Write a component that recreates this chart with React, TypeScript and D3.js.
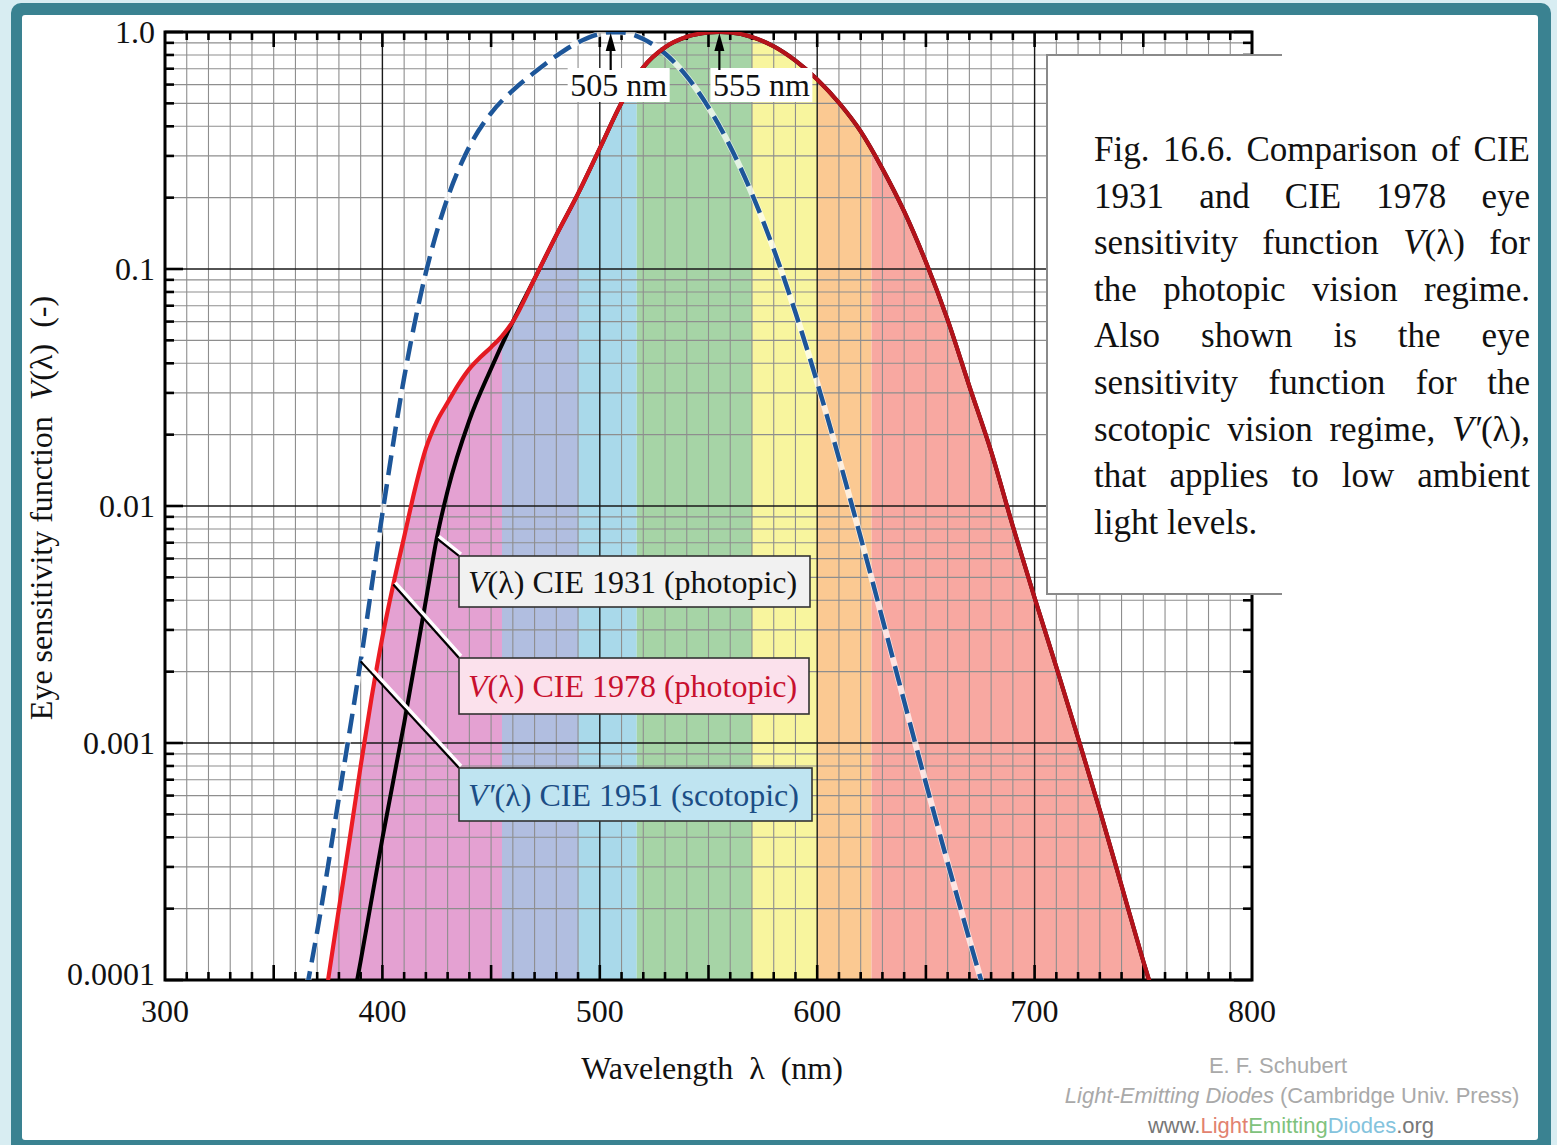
import React from 'react';
import * as d3 from 'd3';

const W = 1557;
const H = 1145;

// CIE 1931 photopic V(λ)
const wl1931 = [380, 390, 400, 410, 420, 425, 430, 440, 450, 460, 470, 480, 490, 500, 510, 520, 530, 540, 550, 555, 560, 570, 580, 590, 600, 610, 620, 630, 640, 650, 660, 670, 680, 690, 700, 710, 720, 730, 740, 750, 760];
const v1931 = [0.000039, 0.00012, 0.000396, 0.00121, 0.004, 0.0073, 0.0116, 0.023, 0.038, 0.06, 0.091, 0.139, 0.208, 0.323, 0.503, 0.71, 0.862, 0.954, 0.995, 1.0, 0.995, 0.952, 0.87, 0.757, 0.631, 0.503, 0.381, 0.265, 0.175, 0.107, 0.061, 0.032, 0.017, 0.00821, 0.0041, 0.00209, 0.00105, 0.00052, 0.00025, 0.00012, 0.00006];

// CIE 1978 photopic V(λ)
const wl1978 = [375, 380, 385, 390, 395, 400, 405, 410, 415, 420, 425, 430, 435, 440, 445, 450, 455, 460, 470, 480, 490, 500, 510, 520, 530, 540, 550, 555, 560, 570, 580, 590, 600, 610, 620, 630, 640, 650, 660, 670, 680, 690, 700, 710, 720, 730, 740, 750, 760];
const v1978 = [0.0001, 0.0002, 0.000396, 0.0008, 0.00155, 0.0028, 0.00466, 0.0074, 0.0118, 0.0175, 0.0227, 0.0273, 0.0326, 0.0379, 0.0424, 0.0468, 0.0521, 0.06, 0.091, 0.139, 0.208, 0.323, 0.503, 0.71, 0.862, 0.954, 0.995, 1.0, 0.995, 0.952, 0.87, 0.757, 0.631, 0.503, 0.381, 0.265, 0.175, 0.107, 0.061, 0.032, 0.017, 0.00821, 0.0041, 0.00209, 0.00105, 0.00052, 0.00025, 0.00012, 0.00006];

// CIE 1951 scotopic V'(λ)
const wl1951 = [365, 370, 380, 390, 400, 410, 420, 430, 440, 450, 460, 470, 480, 490, 500, 505, 510, 520, 530, 540, 550, 560, 570, 580, 590, 600, 610, 620, 630, 640, 650, 660, 670, 680];
const v1951 = [0.00009, 0.00016, 0.000589, 0.00221, 0.00929, 0.0348, 0.0966, 0.1998, 0.3281, 0.455, 0.567, 0.676, 0.793, 0.904, 0.982, 0.998, 0.997, 0.935, 0.811, 0.65, 0.481, 0.3288, 0.2076, 0.1212, 0.0655, 0.0332, 0.0159, 0.00737, 0.00334, 0.0015, 0.000677, 0.000313, 0.000148, 0.0000715];

const bandEdges = [300, 455, 490, 517, 570, 600, 625, 800];
const bandColors = ['#e4a1d2', '#b1bee0', '#a9d9ea', '#a6d4a6', '#f8f59e', '#fbc992', '#f8a8a1'];

const xTickValues = [300, 400, 500, 600, 700, 800];
const yTickValues = [1, 0.1, 0.01, 0.001, 0.0001];
const yTickLabels = ['1.0', '0.1', '0.01', '0.001', '0.0001'];

const peakWl = [505, 555];
const peakLabels = ['505 nm', '555 nm'];

const serif = '"Liberation Serif", "Times New Roman", serif';
const sans = '"Liberation Sans", Arial, sans-serif';

type Run = { s: string; i?: boolean };
const captionLines: Run[][][] = [
  [[{ s: 'Fig.' }], [{ s: '16.6.' }], [{ s: 'Comparison' }], [{ s: 'of' }], [{ s: 'CIE' }]],
  [[{ s: '1931' }], [{ s: 'and' }], [{ s: 'CIE' }], [{ s: '1978' }], [{ s: 'eye' }]],
  [[{ s: 'sensitivity' }], [{ s: 'function' }], [{ s: 'V', i: true }, { s: '(λ)' }], [{ s: 'for' }]],
  [[{ s: 'the' }], [{ s: 'photopic' }], [{ s: 'vision' }], [{ s: 'regime.' }]],
  [[{ s: 'Also' }], [{ s: 'shown' }], [{ s: 'is' }], [{ s: 'the' }], [{ s: 'eye' }]],
  [[{ s: 'sensitivity' }], [{ s: 'function' }], [{ s: 'for' }], [{ s: 'the' }]],
  [[{ s: 'scotopic' }], [{ s: 'vision' }], [{ s: 'regime,' }], [{ s: 'V′', i: true }, { s: '(λ),' }]],
  [[{ s: 'that' }], [{ s: 'applies' }], [{ s: 'to' }], [{ s: 'low' }], [{ s: 'ambient' }]],
  [[{ s: 'light levels.' }]],
];

let ctx: CanvasRenderingContext2D | null = null;
function measure(text: string, italic: boolean, size: number) {
  if (!ctx) ctx = document.createElement('canvas').getContext('2d');
  if (!ctx) return text.length * size * 0.45;
  ctx.font = `${italic ? 'italic ' : ''}${size}px "Liberation Serif"`;
  return ctx.measureText(text).width;
}

export default function App() {
  const x = d3.scaleLinear().domain([300, 800]).range([165, 1252]);
  const y = d3.scaleLog().domain([0.0001, 1]).range([980, 32]);
  const [x0, x1] = x.range();
  const yBot = y(0.0001);
  const yTop = y(1);

  const line = d3.line<[number, number]>().x(d => x(d[0])).y(d => y(d[1])).curve(d3.curveMonotoneX);
  const area = d3.area<[number, number]>().x(d => x(d[0])).y0(yBot).y1(d => y(d[1])).curve(d3.curveMonotoneX);

  const pts1931 = wl1931.map((w, i) => [w, v1931[i]] as [number, number]);
  const pts1978 = wl1978.map((w, i) => [w, v1978[i]] as [number, number]);
  const pts1951 = wl1951.map((w, i) => [w, v1951[i]] as [number, number]);

  const minorX = d3.range(310, 800, 10);
  const majorX = d3.range(400, 800, 100);
  const minorY = y.ticks().filter(t => !yTickValues.some(v => Math.abs(v - t) / v < 1e-6));
  const tickX = d3.range(310, 800, 10);

  // caption layout
  const capSize = 35;
  const capLeft = 1094;
  const capRight = 1530;
  const capTop = 161;
  const capStep = 46.6;

  const legends = [
    { anchor: [425, 0.0073], box: [459, 556, 351, 51], fill: '#f1f1f1', color: '#111', main: 'V', rest: '(λ) CIE 1931 (photopic)' },
    { anchor: [405, 0.00466], box: [459, 658, 350, 56], fill: '#fbe1ec', color: '#c8102e', main: 'V', rest: '(λ) CIE 1978 (photopic)' },
    { anchor: [390, 0.00221], box: [459, 768, 353, 53], fill: '#bfe4f1', color: '#1b4d85', main: 'V′', rest: '(λ) CIE 1951 (scotopic)' },
  ];

  return (
    <svg width={W} height={H} style={{ position: 'absolute', left: 0, top: 0 }} xmlns="http://www.w3.org/2000/svg">
      <defs>
        <clipPath id="plotClip">
          <rect x={x0} y={yTop} width={x1 - x0} height={yBot - yTop} />
        </clipPath>
        <clipPath id="underRed">
          <path d={area(pts1978) || ''} />
        </clipPath>
        <linearGradient id="redGrad" gradientUnits="userSpaceOnUse" x1={x(420)} x2={x(580)} y1={0} y2={0}>
          <stop offset="0" stopColor="#ec1c24" />
          <stop offset="0.45" stopColor="#d2171f" />
          <stop offset="1" stopColor="#b3121a" />
        </linearGradient>
      </defs>

      {/* page frame */}
      <rect x={0} y={0} width={W} height={H} fill="#d8edf2" />
      <rect x={11} y={3} width={1540} height={1160} rx={10} fill="#3a8291" />
      <rect x={22} y={15} width={1516} height={1125} rx={3} fill="#ffffff" />

      {/* spectral bands under CIE 1978 curve */}
      <g clipPath="url(#plotClip)">
        <g clipPath="url(#underRed)">
          {bandColors.map((c, i) => (
            <rect key={i} x={x(bandEdges[i])} y={yTop} width={x(bandEdges[i + 1]) - x(bandEdges[i])} height={yBot - yTop} fill={c} />
          ))}
        </g>
      </g>

      {/* grid */}
      <g>
        {minorX.filter(v => v % 100 !== 0).map(v => (
          <line key={'gx' + v} x1={x(v)} x2={x(v)} y1={yTop} y2={yBot} stroke="#8e8e8e" strokeWidth={1.1} />
        ))}
        {minorY.map((v, i) => (
          <line key={'gy' + i} x1={x0} x2={x1} y1={y(v)} y2={y(v)} stroke="#8e8e8e" strokeWidth={1.1} />
        ))}
        {majorX.map(v => (
          <line key={'mx' + v} x1={x(v)} x2={x(v)} y1={yTop} y2={yBot} stroke="#1a1a1a" strokeWidth={1.4} />
        ))}
        {yTickValues.slice(1, 4).map(v => (
          <line key={'my' + v} x1={x0} x2={x1} y1={y(v)} y2={y(v)} stroke="#1a1a1a" strokeWidth={1.4} />
        ))}
      </g>

      {/* ticks */}
      <g stroke="#000" strokeWidth={2.6}>
        {tickX.map(v => {
          const len = v % 50 === 0 ? 15 : 8;
          return (
            <g key={'tx' + v}>
              <line x1={x(v)} x2={x(v)} y1={yBot} y2={yBot - len} />
              <line x1={x(v)} x2={x(v)} y1={yTop} y2={yTop + len} />
            </g>
          );
        })}
        {minorY.map((v, i) => (
          <g key={'ty' + i}>
            <line x1={x0} x2={x0 + 9} y1={y(v)} y2={y(v)} />
            <line x1={x1} x2={x1 - 9} y1={y(v)} y2={y(v)} />
          </g>
        ))}
        {yTickValues.map(v => (
          <g key={'tyM' + v}>
            <line x1={x0} x2={x0 + 18} y1={y(v)} y2={y(v)} />
            <line x1={x1} x2={x1 - 18} y1={y(v)} y2={y(v)} />
          </g>
        ))}
      </g>
      <rect x={x0} y={yTop} width={x1 - x0} height={yBot - yTop} fill="none" stroke="#000" strokeWidth={3} />

      {/* curves */}
      <g clipPath="url(#plotClip)" fill="none">
        <path d={line(pts1951) || ''} stroke="#ffffff" strokeWidth={6} opacity={0.7} />
        <path d={line(pts1951) || ''} stroke="#1d5699" strokeWidth={4.5} strokeDasharray="20 9" />
        <path d={line(pts1931) || ''} stroke="#000" strokeWidth={4} />
        <path d={line(pts1978) || ''} stroke="url(#redGrad)" strokeWidth={4.2} />
      </g>

      {/* peak markers */}
      {peakWl.map((w, i) => {
        const px = x(w);
        const lx = i === 0 ? px - 43 : px - 9;
        return (
          <g key={'pk' + w}>
            <rect x={lx} y={68} width={102} height={34} fill="#fff" />
            <line x1={px} x2={px} y1={70} y2={46} stroke="#000" strokeWidth={2.2} />
            <path d={`M${px},${yTop + 1} L${px - 5},${yTop + 19} L${px + 5},${yTop + 19} Z`} fill="#000" />
            <text x={lx + 51} y={96} textAnchor="middle" fontFamily={serif} fontSize={32} fill="#111">{peakLabels[i]}</text>
          </g>
        );
      })}

      {/* legend boxes with leaders */}
      {legends.map((l, i) => {
        const ax = x(l.anchor[0]);
        const ay = y(l.anchor[1]);
        const [bx, by, bw, bh] = l.box;
        return (
          <g key={'lg' + i}>
            <line x1={ax + 2} y1={ay - 2} x2={bx + 2} y2={by - 2} stroke="#fff" strokeWidth={3.5} />
            <line x1={ax} y1={ay} x2={bx} y2={by} stroke="#000" strokeWidth={2.2} />
            <rect x={bx} y={by} width={bw} height={bh} fill={l.fill} stroke="#333" strokeWidth={1.6} />
            <text x={bx + 9} y={by + bh / 2 + 11} fontFamily={serif} fontSize={32} fill={l.color}>
              <tspan fontStyle="italic">{l.main}</tspan>
              <tspan>{l.rest}</tspan>
            </text>
          </g>
        );
      })}

      {/* caption box */}
      <rect x={1047} y={55} width={235} height={539} fill="#fff" />
      <path d="M1282,55 L1047,55 L1047,594 L1282,594" fill="none" stroke="#8a8a8a" strokeWidth={2} />
      {captionLines.map((words, li) => {
        const yy = capTop + li * capStep;
        const widths = words.map(wd => d3.sum(wd, r => measure(r.s, !!r.i, capSize)));
        const justify = li < captionLines.length - 1 && words.length > 1;
        const gap = justify ? (capRight - capLeft - d3.sum(widths)) / (words.length - 1) : measure(' ', false, capSize);
        let cx = capLeft;
        return (
          <text key={'cap' + li} y={yy} fontFamily={serif} fontSize={capSize} fill="#111">
            {words.map((wd, wi) => {
              const start = cx;
              cx += widths[wi] + gap;
              return wd.map((r, ri) => (
                <tspan key={wi + '-' + ri} x={ri === 0 ? start : undefined} fontStyle={r.i ? 'italic' : 'normal'}>{r.s}</tspan>
              ));
            })}
          </text>
        );
      })}

      {/* tick labels */}
      {xTickValues.map(v => (
        <text key={'xl' + v} x={x(v)} y={1022} textAnchor="middle" fontFamily={serif} fontSize={32} fill="#111">{v}</text>
      ))}
      {yTickValues.map((v, i) => (
        <text key={'yl' + v} x={155} y={y(v) + 11 - (i === 4 ? 6 : 0)} textAnchor="end" fontFamily={serif} fontSize={32} fill="#111">{yTickLabels[i]}</text>
      ))}

      {/* axis titles */}
      <text x={712} y={1079} textAnchor="middle" fontFamily={serif} fontSize={32} fill="#111" style={{ whiteSpace: 'pre' }}>
        {'Wavelength  λ  (nm)'}
      </text>
      <text transform="translate(52,508) rotate(-90)" textAnchor="middle" fontFamily={serif} fontSize={32} fill="#111" style={{ whiteSpace: 'pre' }}>
        <tspan>{'Eye sensitivity function  '}</tspan>
        <tspan fontStyle="italic">V</tspan>
        <tspan>{'(λ)  (-)'}</tspan>
      </text>

      {/* credits */}
      <g fontFamily={sans} fontSize={22} textAnchor="middle">
        <text x={1278} y={1073} fill="#a9a9a9">E. F. Schubert</text>
        <text x={1292} y={1103} fill="#a9a9a9">
          <tspan fontStyle="italic">Light-Emitting Diodes</tspan>
          <tspan>{' (Cambridge Univ. Press)'}</tspan>
        </text>
        <text x={1291} y={1133} fill="#777">
          <tspan>www.</tspan>
          <tspan fill="#e2826f">Light</tspan>
          <tspan fill="#80c27c">Emitting</tspan>
          <tspan fill="#84c3dd">Diodes</tspan>
          <tspan>.org</tspan>
        </text>
      </g>
    </svg>
  );
}
